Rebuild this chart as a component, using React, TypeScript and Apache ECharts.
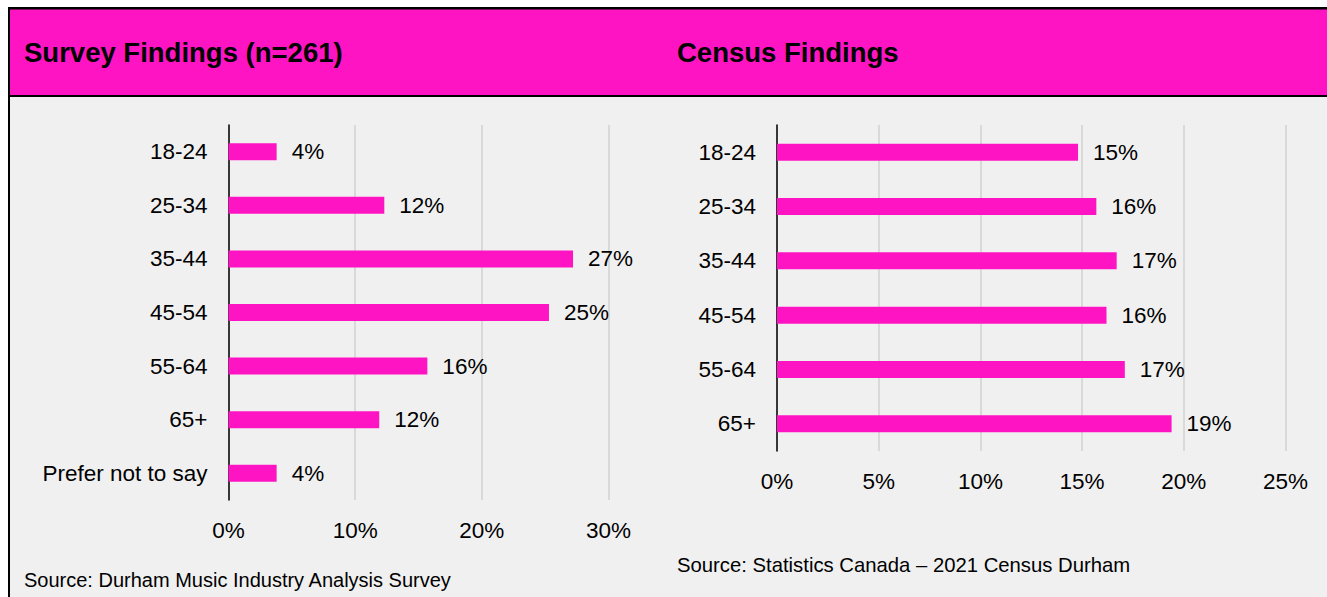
import React, { useEffect, useRef } from "react";
import * as echarts from "echarts";

const surveyTitle = "Survey Findings (n=261)";
const censusTitle = "Census Findings";
const surveySource = "Source: Durham Music Industry Analysis Survey";
const censusSource = "Source: Statistics Canada \u2013 2021 Census Durham";

const surveyCategories = ["18-24", "25-34", "35-44", "45-54", "55-64", "65+", "Prefer not to say"];
const surveyValues = [3.8, 12.3, 27.2, 25.3, 15.7, 11.9, 3.8];

const censusCategories = ["18-24", "25-34", "35-44", "45-54", "55-64", "65+"];
const censusValues = [14.8, 15.7, 16.7, 16.2, 17.1, 19.4];

const PINK = "#ff14c4";
const FONT = "'Liberation Sans', Arial, sans-serif";
const TICK = 22.5;

export default function App() {
  const ref = useRef<HTMLDivElement>(null);
  useEffect(() => {
    if (!ref.current) return;
    const chart = echarts.init(ref.current, null, { renderer: "svg" });
    const xAxisCommon = {
      type: "value",
      axisLine: { show: false },
      axisTick: { show: false },
      splitLine: { show: true, lineStyle: { color: "#d9d9d9", width: 2 } },
      axisLabel: { formatter: "{value}%", color: "#000", fontSize: TICK, fontFamily: FONT, margin: 19 },
    };
    const yAxisCommon = {
      type: "category",
      inverse: true,
      axisLine: { show: true, lineStyle: { color: "#000", width: 1.5 } },
      axisTick: { show: false },
      axisLabel: { color: "#000", fontSize: TICK, fontFamily: FONT, margin: 21 },
    };
    const seriesCommon = {
      type: "bar",
      barWidth: 17,
      itemStyle: { color: PINK },
      label: {
        show: true,
        position: "right",
        distance: 15,
        color: "#000",
        fontSize: TICK,
        fontFamily: FONT,
        formatter: (p: any) => Math.round(p.value) + "%",
      },
    };
    chart.setOption({
      animation: false,
      backgroundColor: "#f0f0f0",
      grid: [
        { left: 228.5, top: 125, width: 380, height: 375, containLabel: false },
        { left: 777, top: 125, width: 508.5, height: 326, containLabel: false },
      ],
      xAxis: [
        { ...xAxisCommon, gridIndex: 0, min: 0, max: 30, interval: 10 },
        { ...xAxisCommon, gridIndex: 1, min: 0, max: 25, interval: 5 },
      ],
      yAxis: [
        { ...yAxisCommon, gridIndex: 0, data: surveyCategories },
        { ...yAxisCommon, gridIndex: 1, data: censusCategories },
      ],
      series: [
        { ...seriesCommon, xAxisIndex: 0, yAxisIndex: 0, data: surveyValues },
        { ...seriesCommon, xAxisIndex: 1, yAxisIndex: 1, data: censusValues },
      ],
      graphic: [
        { type: "rect", shape: { x: 0, y: 0, width: 8, height: 597 }, style: { fill: "#fff" } },
        { type: "rect", shape: { x: 0, y: 0, width: 1327, height: 7 }, style: { fill: "#fff" } },
        { type: "rect", shape: { x: 8, y: 7, width: 1319, height: 90 }, style: { fill: PINK } },
        { type: "rect", shape: { x: 8, y: 7, width: 1319, height: 2.5 }, style: { fill: "#000" } },
        { type: "rect", shape: { x: 8, y: 95, width: 1319, height: 2 }, style: { fill: "#000" } },
        { type: "rect", shape: { x: 8, y: 7, width: 2, height: 590 }, style: { fill: "#000" } },
        {
          type: "text", x: 24, y: 52,
          style: { text: surveyTitle, fill: "#000", font: `bold 27.5px ${FONT}`, verticalAlign: "middle" },
        },
        {
          type: "text", x: 677, y: 52,
          style: { text: censusTitle, fill: "#000", font: `bold 27.5px ${FONT}`, verticalAlign: "middle" },
        },
        {
          type: "text", x: 24, y: 580,
          style: { text: surveySource, fill: "#000", font: `20px ${FONT}`, verticalAlign: "middle" },
        },
        {
          type: "text", x: 677, y: 565,
          style: { text: censusSource, fill: "#000", font: `20.3px ${FONT}`, verticalAlign: "middle" },
        },
      ],
    });
    return () => chart.dispose();
  }, []);
  return (
    <div
      ref={ref}
      style={{ position: "fixed", left: 0, top: 0, width: 1327, height: 597 }}
    />
  );
}
